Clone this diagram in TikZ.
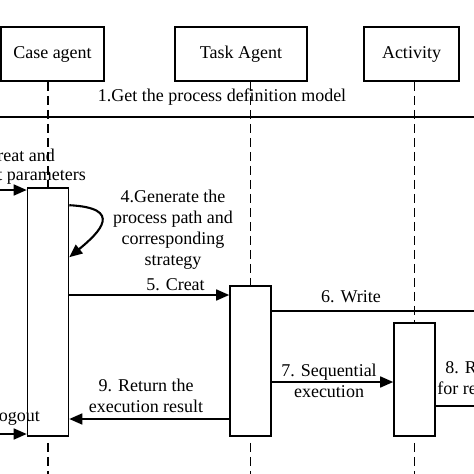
\documentclass[tikz,border=0pt]{standalone}
\usepackage{fontspec}
\setmainfont{Liberation Serif}
\usetikzlibrary{arrows.meta,calc}
\begin{document}
\begin{tikzpicture}[x=1pt,y=-1pt,
  every node/.style={font=\fontsize{18}{21}\selectfont, inner sep=0pt},
  obj/.style={draw, line width=1.6pt, minimum height=54pt},
  act/.style={draw, line width=1.6pt, fill=white, minimum width=41pt},
  life/.style={line width=1.5pt, dash pattern=on 9pt off 5pt},
  msg/.style={line width=1.6pt, -{Triangle[length=13pt,width=11pt]}},
  plainline/.style={line width=1.6pt},
  lbl/.style={align=center}]
\useasboundingbox (0,0) rectangle (474,474);
\clip (0,0) rectangle (474,474);

% objects
\node[obj, minimum width=103pt] (ca) at (52.5,54) {Case agent};
\node[obj, minimum width=132pt] (ta) at (241,54) {Task Agent};
\node[obj, minimum width=95pt]  (ac) at (411.5,54) {Activity};

% activation boxes
\node[act, minimum height=248pt] (caact) at (48,312) {};
\node[act, minimum height=150pt] (taact) at (250.5,361) {};
\node[act, minimum height=113pt] (acact) at (414.5,379.5) {};

% helper coordinates
\coordinate (bot) at (0,474);
\coordinate (L1) at (0,117);
\coordinate (R1) at (474,117);
\coordinate (in3) at (0,190);
\coordinate (m5) at (0,295);
\coordinate (R6) at (474,311);
\coordinate (m7) at (0,382);
\coordinate (R8) at (474,406);
\coordinate (m9) at (0,419);
\coordinate (in10) at (0,434);

% lifelines
\draw[life] (ca.south -| caact.north) -- (caact.north);
\draw[life] (ta.south -| taact.north) -- (taact.north);
\draw[life] (ac.south -| acact.north) -- (acact.north);
\draw[life] ($(caact.south)+(0,6)$) -- (caact.south |- bot);
\draw[life] ($(taact.south)+(0,6)$) -- (taact.south |- bot);
\draw[life] ($(acact.south)+(0,6)$) -- (acact.south |- bot);

% 1
\draw[line width=1.9pt] (L1) -- (R1);
\node at (222,97) {1.Get the process definition model};

% 3
\draw[msg] (in3) -- (caact.west |- in3);
\node[anchor=east] at (55,155) {3.Creat and};
\node[anchor=east] at (86,176) {input parameters};

% 4 self loop
\draw[msg, line width=2.1pt] ($(caact.north east)+(0,18)$) .. controls (124,208) and (100,232) .. ($(caact.north east)+(0,70)$);
\node[lbl] at (173,230) {4.Generate the\\process path and\\corresponding\\strategy};

% 5
\draw[msg] (caact.east |- m5) -- (taact.west |- m5);
\node at (175.5,285) {5. Creat};

% 6
\draw[plainline] (taact.east |- R6) -- (R6);
\node at (351,297) {6. Write};

% 7
\draw[msg] (taact.east |- m7) -- (acact.west |- m7);
\node[lbl] at (329,381) {7. Sequential\\execution};

% 8
\draw[plainline] (acact.east |- R8) -- (R8);
\node[lbl] at (484,378) {8. Request\\for resources};

% 9
\draw[msg] (taact.west |- m9) -- (caact.east |- m9);
\node[lbl] at (146,396) {9. Return the\\execution result};

% 10
\draw[msg] (in10) -- (caact.west |- in10);
\node[anchor=east] at (40,417) {10.Logout};
\end{tikzpicture}
\end{document}
